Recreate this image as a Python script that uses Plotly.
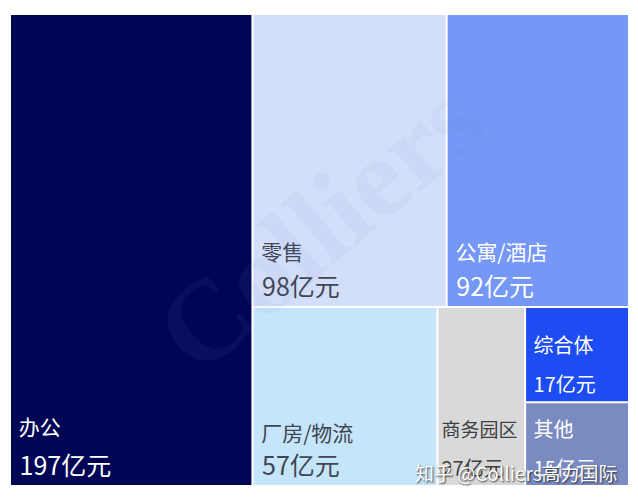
import plotly.graph_objects as go

# Data
categories = ["办公", "零售", "公寓/酒店", "厂房/物流", "商务园区", "综合体", "其他"]
values = [197, 98, 92, 57, 27, 17, 15]
unit = "亿元"

# Styles
tile_colors = ["#000655", "#d3defa", "#7597f6", "#c5e5fb", "#d9d9d9", "#1c4cf2", "#7a8bc1"]
text_colors = ["#ffffff", "#404652", "#ffffff", "#404652", "#404040", "#ffffff", "#ffffff"]
name_sizes = [21, 21, 21, 21, 19, 20, 20]
value_sizes = [25, 25, 25, 25, 20, 20, 20]
base_sizes = [31, 28, 28, 26, 30, 30, 30]
lead = ["\u00a0", "\u00a0", "\u00a0", "\u00a0", "", "\u00a0", "\u00a0"]

templates = [
    f"<span style='font-size:{ns}px'>{ld}%{{label}}</span><br>"
    f"<span style='font-size:{vs}px'>{ld}%{{value}}{unit}</span>"
    for ns, vs, ld in zip(name_sizes, value_sizes, lead)
]

fig = go.Figure(
    go.Treemap(
        labels=categories,
        parents=[""] * len(categories),
        values=values,
        sort=True,
        texttemplate=templates,
        textposition="bottom left",
        textfont=dict(family="Noto Sans CJK SC", size=base_sizes, color=text_colors),
        marker=dict(colors=tile_colors, line=dict(width=0), pad=dict(t=0, l=0, r=0, b=0)),
        tiling=dict(packing="squarify", squarifyratio=1, pad=2),
        pathbar=dict(visible=False),
        hoverinfo="skip",
    )
)

fig.update_layout(
    width=638,
    height=500,
    margin=dict(l=3, r=18, t=7, b=23),
    paper_bgcolor="#ffffff",
    font=dict(family="Noto Sans CJK SC"),
    annotations=[
        dict(
            text="<b>Colliers</b>",
            x=0.5, y=0.553, xref="paper", yref="paper",
            showarrow=False, textangle=-40,
            font=dict(family="Liberation Serif", size=115, color="rgba(110,135,200,0.07)"),
        ),
        dict(
            text="知乎 @Colliers高力国际",
            x=0.987, y=-0.006, xref="paper", yref="paper",
            xanchor="right", yanchor="bottom", showarrow=False,
            font=dict(family="Noto Sans CJK SC", size=19, color="#ffffff",
                      shadow="1px 1px 2px rgba(0,0,0,0.75)"),
        ),
    ],
)

fig.write_html("out.html")
